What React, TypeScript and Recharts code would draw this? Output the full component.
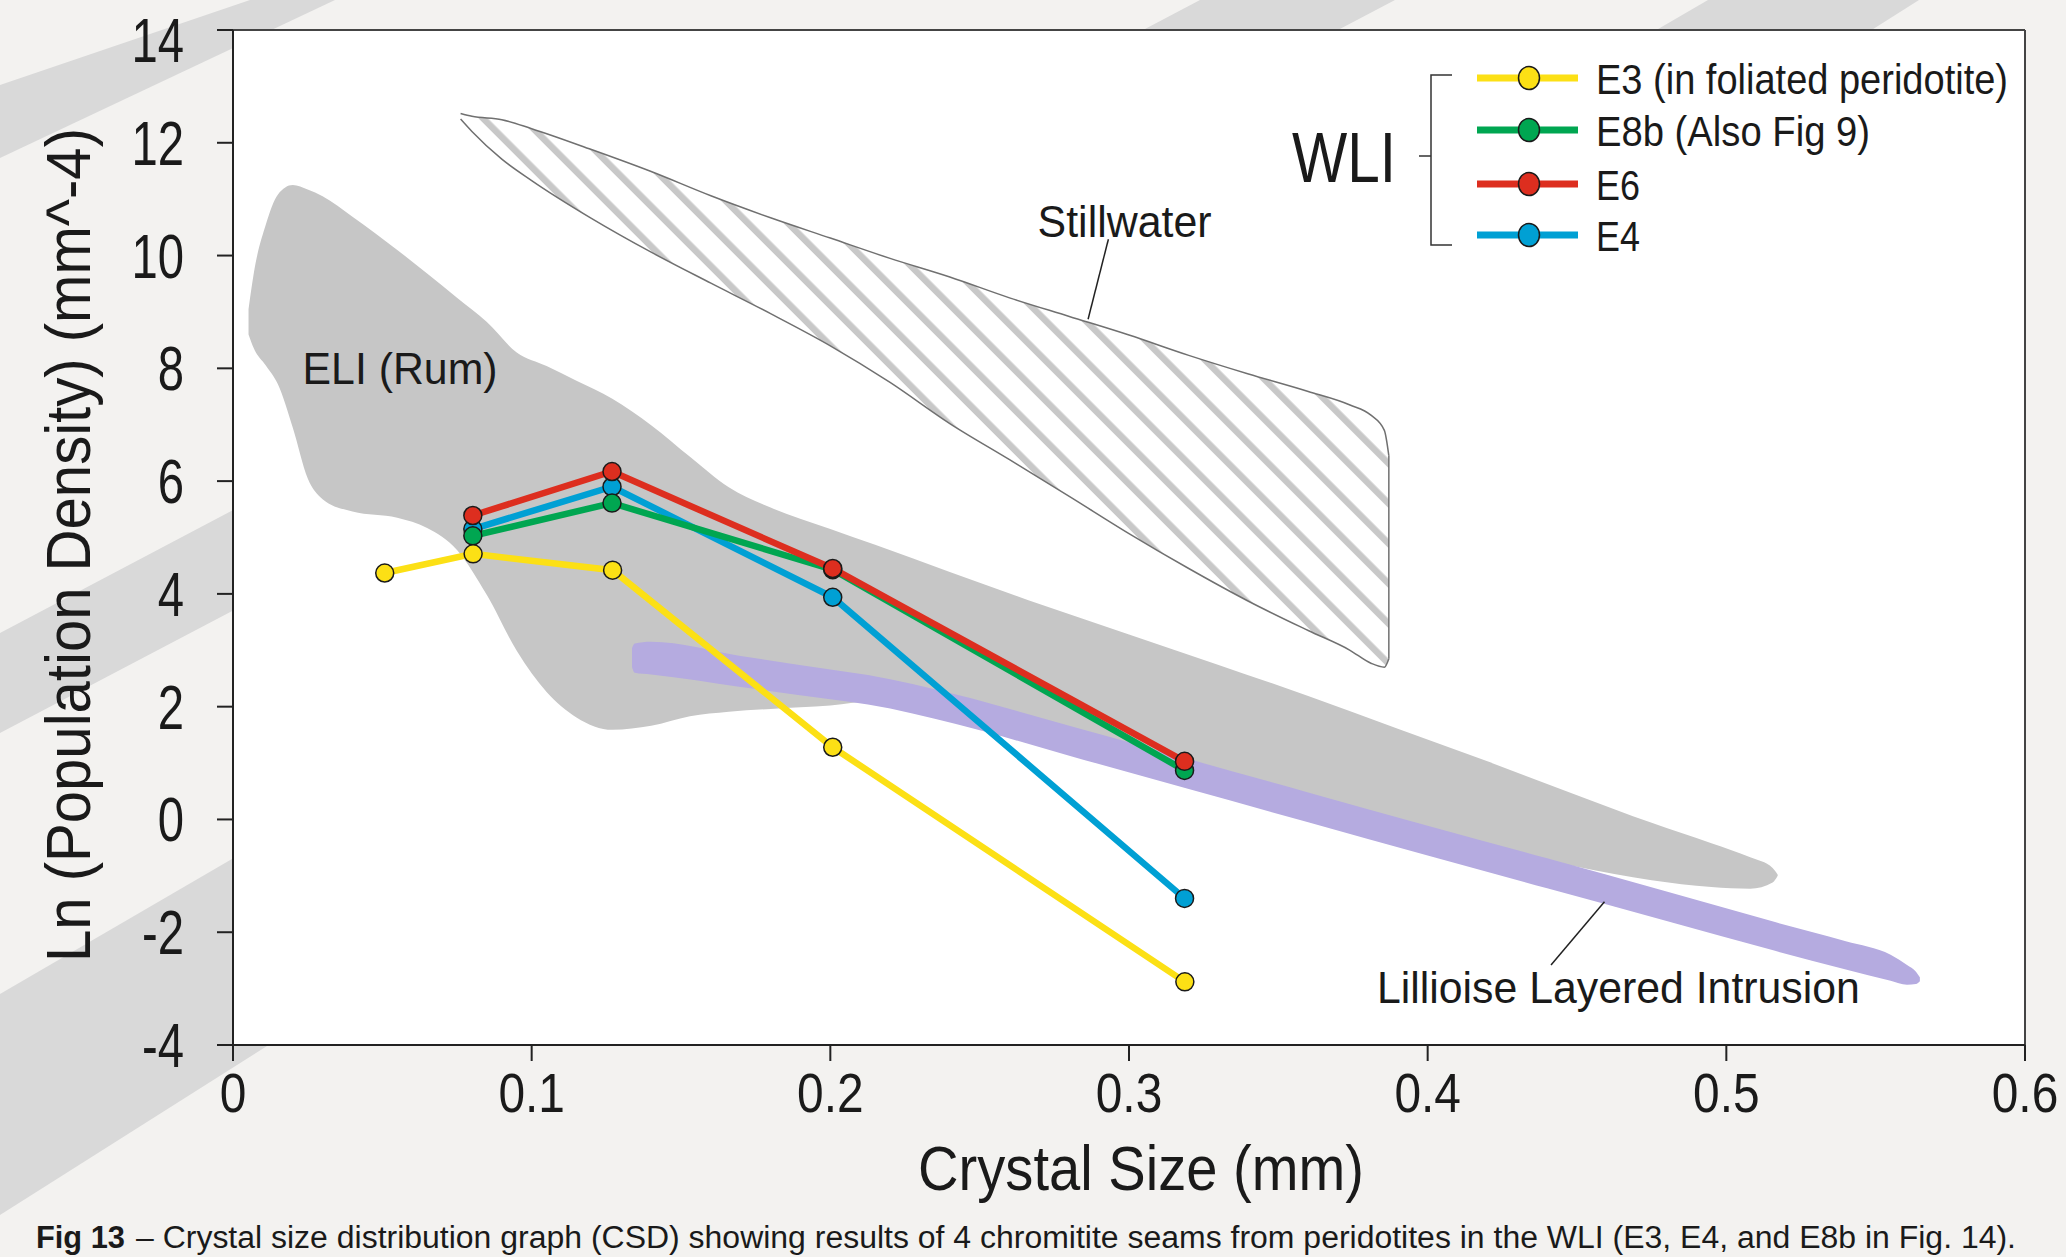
import React from 'react';
import {
  ComposedChart,
  Line,
  Area,
  XAxis,
  YAxis,
  CartesianGrid,
  ReferenceLine,
  ReferenceDot,
} from 'recharts';

const FONT = '"Liberation Sans", Arial, Helvetica, sans-serif';
const INK = '#1a1a1a';

// axis ticks
const xTicks = [0, 0.1, 0.2, 0.3, 0.4, 0.5, 0.6];
const xTickLabels = ['0', '0.1', '0.2', '0.3', '0.4', '0.5', '0.6'];
const yTicks = [-4, -2, 0, 2, 4, 6, 8, 10, 12, 14];
const yTickLabels = ['-4', '-2', '0', '2', '4', '6', '8', '10', '12', '14'];

// WLI seams: crystal size (mm) vs ln(population density)
const e3Size = [0.0508, 0.0804, 0.1271, 0.2008, 0.3187];
const e3Density = [4.37, 4.71, 4.42, 1.28, -2.88];
const seamSize = [0.0803, 0.1269, 0.2008, 0.3186];
const e8bDensity = [5.03, 5.61, 4.43, 0.87];
const e6Density = [5.39, 6.17, 4.45, 1.03];
const e4Density = [5.15, 5.9, 3.94, -1.4];

const seriesNames = ['E3 (in foliated peridotite)', 'E8b (Also Fig 9)', 'E6', 'E4'];
const seriesColors = ['#fce015', '#00a651', '#dd2e1f', '#00a0d4'];

// ELI (Rum) field outline: size, lower edge, upper edge
const eliSize = [0.0052, 0.007, 0.011, 0.015, 0.02, 0.025, 0.03, 0.04, 0.055, 0.065, 0.075, 0.085, 0.095, 0.105, 0.115, 0.127, 0.14, 0.153, 0.166, 0.18, 0.2, 0.215, 0.24, 0.27, 0.3, 0.33, 0.36, 0.39, 0.42, 0.45, 0.475, 0.495, 0.508, 0.5155, 0.5172];
const eliLow = [8.6, 8.35, 8.05, 7.72, 6.95, 6.05, 5.68, 5.46, 5.35, 5.17, 4.78, 3.98, 2.99, 2.26, 1.81, 1.59, 1.66, 1.83, 1.91, 1.96, 2.02, 2.1, 1.85, 1.45, 1.05, 0.65, 0.25, -0.15, -0.5, -0.84, -1.08, -1.2, -1.23, -1.12, -1.0];
const eliHigh = [9.05, 9.7, 10.55, 11.08, 11.25, 11.17, 11.05, 10.69, 10.1, 9.68, 9.25, 8.82, 8.28, 8.04, 7.78, 7.46, 6.99, 6.43, 5.89, 5.53, 5.15, 4.87, 4.39, 3.82, 3.28, 2.74, 2.19, 1.61, 1.03, 0.43, -0.06, -0.42, -0.67, -0.86, -0.98];

// Lillioise Layered Intrusion band
const lliSize = [0.1336, 0.1345, 0.14, 0.17, 0.2, 0.2126, 0.2424, 0.28, 0.32, 0.36, 0.4, 0.44, 0.48, 0.5163, 0.54, 0.555, 0.5605, 0.5635, 0.5648];
const lliLow = [2.7, 2.6, 2.57, 2.35, 2.13, 2.04, 1.69, 1.13, 0.54, -0.05, -0.64, -1.22, -1.8, -2.33, -2.66, -2.86, -2.93, -2.92, -2.87];
const lliHigh = [3.04, 3.12, 3.15, 2.9, 2.66, 2.56, 2.21, 1.66, 1.07, 0.48, -0.11, -0.69, -1.28, -1.82, -2.16, -2.4, -2.58, -2.7, -2.8];

// Stillwater field
const swSize = [0.0762, 0.08, 0.09, 0.1, 0.12, 0.14, 0.16, 0.18, 0.2, 0.22, 0.24, 0.26, 0.28, 0.3, 0.32, 0.34, 0.36, 0.374, 0.381, 0.3855, 0.387];
const swLow = [12.42, 12.2, 11.71, 11.33, 10.66, 10.06, 9.51, 8.97, 8.4, 7.75, 7.02, 6.38, 5.73, 5.07, 4.45, 3.87, 3.35, 3.0, 2.77, 2.7, 2.85];
const swHigh = [12.52, 12.47, 12.41, 12.25, 11.88, 11.49, 11.06, 10.67, 10.31, 9.95, 9.62, 9.25, 8.92, 8.59, 8.23, 7.9, 7.59, 7.35, 7.17, 6.9, 6.45];

const toPoints = (xs: number[], ys: number[]) => xs.map((x, i) => ({ x, y: ys[i] }));
const toRange = (xs: number[], lo: number[], hi: number[]) =>
  xs.map((x, i) => ({ x, range: [lo[i], hi[i]] }));

const seriesData = [
  toPoints(e3Size, e3Density),
  toPoints(seamSize, e8bDensity),
  toPoints(seamSize, e6Density),
  toPoints(seamSize, e4Density),
];
// draw order: E4, E8b, E6, E3 on top
const drawOrder = [3, 1, 2, 0];

const eliData = toRange(eliSize, eliLow, eliHigh);
const lliData = toRange(lliSize, lliLow, lliHigh);
const swData = toRange(swSize, swLow, swHigh);
const swLast = swSize.length - 1;
const swEdge = [
  { x: swSize[swLast], y: swHigh[swLast] },
  { x: swSize[swLast], y: swLow[swLast] },
];

const XTick = (props: any) => {
  const { x, y, payload } = props;
  const label = xTickLabels[xTicks.indexOf(payload.value)] ?? String(payload.value);
  return (
    <text
      transform={`translate(${x},${y + 49}) scale(0.87,1)`}
      textAnchor="middle"
      fontFamily={FONT}
      fontSize={55}
      fill={INK}
    >
      {label}
    </text>
  );
};

const YTick = (props: any) => {
  const { x, y, payload } = props;
  const label = yTickLabels[yTicks.indexOf(payload.value)] ?? String(payload.value);
  // the top label sits a little lower so it stays inside the page
  const shift = payload.value === 14 ? 10 : 0;
  return (
    <text
      transform={`translate(${x - 31},${y + 22 + shift}) scale(0.75,1)`}
      textAnchor="end"
      fontFamily={FONT}
      fontSize={63}
      fill={INK}
    >
      {label}
    </text>
  );
};

const labelShape = (text: string, len: number) => (p: any) => (
  <text
    x={p.cx}
    y={p.cy}
    fontFamily={FONT}
    fontSize={44}
    fill={INK}
    textLength={len}
    lengthAdjust="spacingAndGlyphs"
  >
    {text}
  </text>
);

const App: React.FC = () => {
  const legendRows = [78, 130, 184, 235];
  const legendWidths = [412, 274, 44, 44];
  return (
    <div style={{ position: 'absolute', left: 0, top: 0, width: 2066, height: 1257, background: '#f3f2f0', overflow: 'hidden' }}>
      <svg width={2066} height={1257} style={{ position: 'absolute', left: 0, top: 0 }}>
        <defs>
          <pattern id="swHatch" patternUnits="userSpaceOnUse" width={28.3} height={20} patternTransform="rotate(-45)">
            <rect x={0} y={0} width={28.3} height={20} fill="#ffffff" />
            <rect x={0} y={0} width={6.5} height={20} fill="#c8c8c8" />
          </pattern>
        </defs>
        <polygon points="0,85 250,0 335,0 0,158" fill="#d9d9d9" />
        <polygon points="0,633 1200,0 1395,0 0,733" fill="#d9d9d9" />
        <polygon points="0,994 1708,0 1919,0 0,1215" fill="#d9d9d9" />
      </svg>

      <div style={{ position: 'absolute', left: 0, top: 0 }}>
        <ComposedChart width={2066} height={1257} margin={{ top: 30, right: 41, bottom: 0, left: 0 }}>
          <CartesianGrid fill="#ffffff" horizontal={false} vertical={false} />
          <XAxis
            dataKey="x"
            type="number"
            domain={[0, 0.6]}
            ticks={xTicks}
            allowDataOverflow
            height={212}
            tickSize={16}
            axisLine={{ stroke: '#222', strokeWidth: 2 }}
            tickLine={{ stroke: '#222', strokeWidth: 2 }}
            tick={<XTick />}
            interval={0}
          />
          <YAxis
            type="number"
            domain={[-4, 14]}
            ticks={yTicks}
            allowDataOverflow
            width={233}
            tickSize={16}
            axisLine={{ stroke: '#222', strokeWidth: 2 }}
            tickLine={{ stroke: '#222', strokeWidth: 2 }}
            tick={<YTick />}
            interval={0}
          />
          <ReferenceLine y={14} stroke="#444" strokeWidth={2} ifOverflow="visible" />
          <ReferenceLine x={0.6} stroke="#444" strokeWidth={2} ifOverflow="visible" />

          <Area
            data={eliData}
            dataKey="range"
            type="monotone"
            stroke="none"
            fill="#c6c6c6"
            fillOpacity={1}
            dot={false}
            activeDot={false}
            isAnimationActive={false}
          />
          <Area
            data={lliData}
            dataKey="range"
            type="monotone"
            stroke="none"
            fill="#b5abe0"
            fillOpacity={1}
            dot={false}
            activeDot={false}
            isAnimationActive={false}
          />
          <Area
            data={swData}
            dataKey="range"
            type="monotone"
            stroke="#707070"
            strokeWidth={1.5}
            fill="url(#swHatch)"
            fillOpacity={1}
            dot={false}
            activeDot={false}
            isAnimationActive={false}
          />
          <Line
            data={swEdge}
            dataKey="y"
            stroke="#707070"
            strokeWidth={1.5}
            dot={false}
            activeDot={false}
            isAnimationActive={false}
          />

          <ReferenceLine
            segment={[{ x: 0.2931, y: 10.29 }, { x: 0.2863, y: 8.87 }]}
            stroke="#222"
            strokeWidth={1.5}
            ifOverflow="visible"
          />
          <ReferenceLine
            segment={[{ x: 0.4413, y: -2.58 }, { x: 0.4592, y: -1.46 }]}
            stroke="#222"
            strokeWidth={1.5}
            ifOverflow="visible"
          />

          {drawOrder.map((i) => (
            <Line
              key={seriesNames[i]}
              data={seriesData[i]}
              dataKey="y"
              name={seriesNames[i]}
              type="linear"
              stroke={seriesColors[i]}
              strokeWidth={6.5}
              dot={{ r: 9, fill: seriesColors[i], stroke: '#1a1a1a', strokeWidth: 1.5 }}
              activeDot={false}
              isAnimationActive={false}
            />
          ))}

          <ReferenceDot x={0.0233} y={7.72} r={0} ifOverflow="visible" shape={labelShape('ELI (Rum)', 195)} />
          <ReferenceDot x={0.2694} y={10.33} r={0} ifOverflow="visible" shape={labelShape('Stillwater', 174)} />
          <ReferenceDot x={0.383} y={-3.255} r={0} ifOverflow="visible" shape={labelShape('Lillioise Layered Intrusion', 483)} />
        </ComposedChart>
      </div>

      <svg width={2066} height={1257} style={{ position: 'absolute', left: 0, top: 0, pointerEvents: 'none' }}>
        {/* axis titles */}
        <text
          transform="translate(90,545) rotate(-90)"
          textAnchor="middle"
          fontFamily={FONT}
          fontSize={63}
          fill={INK}
          textLength={834}
          lengthAdjust="spacingAndGlyphs"
        >
          Ln (Population Density) (mm^-4)
        </text>
        <text
          x={918}
          y={1190}
          fontFamily={FONT}
          fontSize={63}
          fill={INK}
          textLength={446}
          lengthAdjust="spacingAndGlyphs"
        >
          Crystal Size (mm)
        </text>

        {/* legend */}
        <text x={1292} y={182} fontFamily={FONT} fontSize={70} fill={INK} textLength={104} lengthAdjust="spacingAndGlyphs">
          WLI
        </text>
        <path d="M1452,75 H1431 V245 H1452 M1419,156 H1431" fill="none" stroke="#333" strokeWidth={1.5} />
        {seriesNames.map((name, i) => (
          <g key={name}>
            <line x1={1477} x2={1578} y1={legendRows[i]} y2={legendRows[i]} stroke={seriesColors[i]} strokeWidth={7} />
            <ellipse cx={1529} cy={legendRows[i]} rx={10.5} ry={11.5} fill={seriesColors[i]} stroke="#1a1a1a" strokeWidth={1.5} />
            <text
              x={1596}
              y={legendRows[i] + 16}
              fontFamily={FONT}
              fontSize={43}
              fill={INK}
              textLength={legendWidths[i]}
              lengthAdjust="spacingAndGlyphs"
            >
              {name}
            </text>
          </g>
        ))}

        {/* caption */}
        <text x={36} y={1248} fontFamily={FONT} fontSize={31} fontWeight="bold" fill={INK} textLength={89} lengthAdjust="spacingAndGlyphs">
          Fig 13
        </text>
        <text x={136} y={1248} fontFamily={FONT} fontSize={31} fill={INK} textLength={1880} lengthAdjust="spacingAndGlyphs">
          – Crystal size distribution graph (CSD) showing results of 4 chromitite seams from peridotites in the WLI (E3, E4, and E8b in Fig. 14).
        </text>
      </svg>
    </div>
  );
};

export default App;
